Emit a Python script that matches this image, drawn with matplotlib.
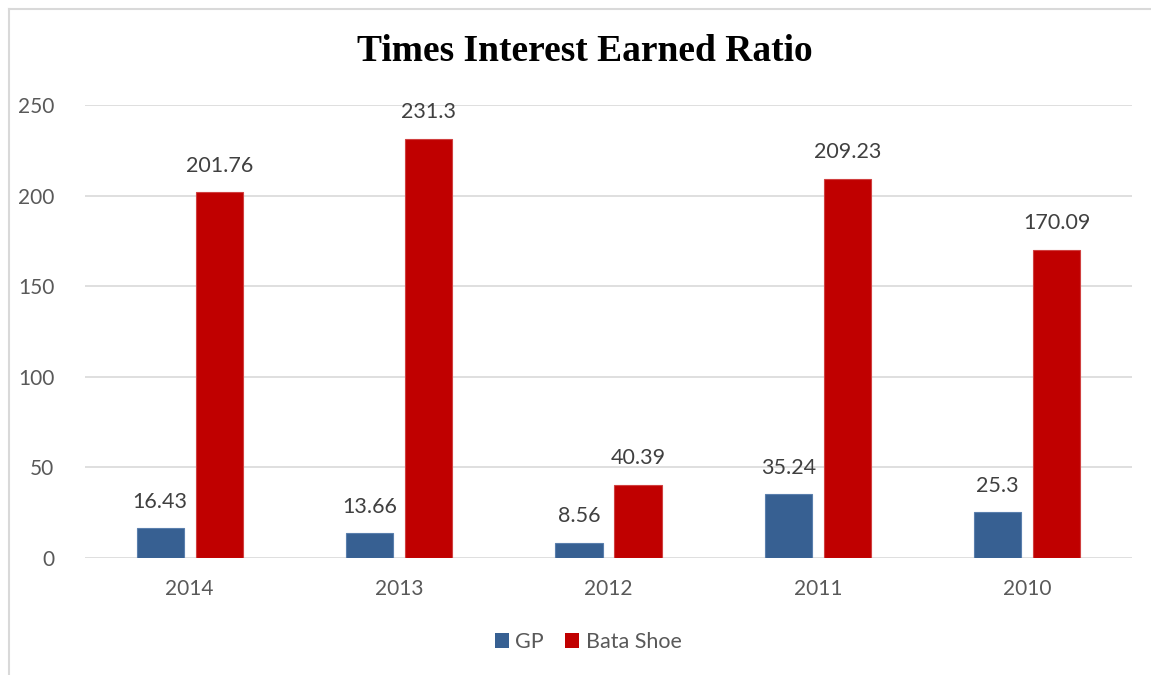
import numpy as np
import matplotlib.pyplot as plt
from matplotlib.lines import Line2D
from matplotlib.patches import Patch

years = ['2014', '2013', '2012', '2011', '2010']
gp = [16.43, 13.66, 8.56, 35.24, 25.3]
bata = [201.76, 231.3, 40.39, 209.23, 170.09]
gp_labels = ['16.43', '13.66', '8.56', '35.24', '25.3']
bata_labels = ['201.76', '231.3', '40.39', '209.23', '170.09']

blue = '#376092'
red = '#C00000'
txt = '#595959'
font = 'Lato'

fig = plt.figure(figsize=(11.51, 6.75), dpi=100)
ax = fig.add_axes([0.0738, 0.1733, 0.9097, 0.6711])

x = np.arange(len(years))
w = 0.225
off = 0.141
b1 = ax.bar(x - off, gp, w, color=blue, edgecolor='#5A7FAD', linewidth=0.8, zorder=3)
b2 = ax.bar(x + off, bata, w, color=red, edgecolor='#D04040', linewidth=0.8, zorder=3)

for bars, labs in ((b1, gp_labels), (b2, bata_labels)):
    for r, lab in zip(bars, labs):
        ax.annotate(lab, (r.get_x() + r.get_width() / 2, r.get_height()),
                    xytext=(0, 12), textcoords='offset points', ha='center', va='bottom',
                    fontsize=15.5, color='#404040', family=font)

ax.set_xlim(-0.5, len(years) - 0.5)
ax.set_ylim(0, 250)
ax.set_yticks(range(0, 251, 50))
ax.set_xticks(x)
ax.set_xticklabels(years)
ax.yaxis.grid(True, color='#D9D9D9', linewidth=1.2, zorder=0)
ax.set_axisbelow(True)
for s in ax.spines.values():
    s.set_visible(False)
ax.tick_params(axis='both', length=0, labelsize=15, labelcolor=txt)
ax.tick_params(axis='y', pad=22)
ax.tick_params(axis='x', pad=15)
for t in ax.get_xticklabels() + ax.get_yticklabels():
    t.set_family(font)

fig.text(0.508, 0.923, 'Times Interest Earned Ratio', ha='center', va='center',
         fontsize=27, fontweight='bold', family='Liberation Serif', color='black')

handles = [Patch(facecolor=blue, label='GP'), Patch(facecolor=red, label='Bata Shoe')]
fig.legend(handles=handles, loc='center', bbox_to_anchor=(0.511, 0.049), ncol=2, frameon=False,
           prop={'family': font, 'size': 15.5}, labelcolor=txt, handlelength=0.65, handleheight=0.65,
           handletextpad=0.3, columnspacing=1.0)

# outer chart border (left and top edges visible)
fig.add_artist(Line2D([0.0078, 0.0078], [0, 0.987], color='#D9D9D9', linewidth=1.5,
                      transform=fig.transFigure))
fig.add_artist(Line2D([0.0078, 1.0], [0.987, 0.987], color='#D9D9D9', linewidth=1.5,
                      transform=fig.transFigure))

fig.savefig('out.png', dpi=100)
